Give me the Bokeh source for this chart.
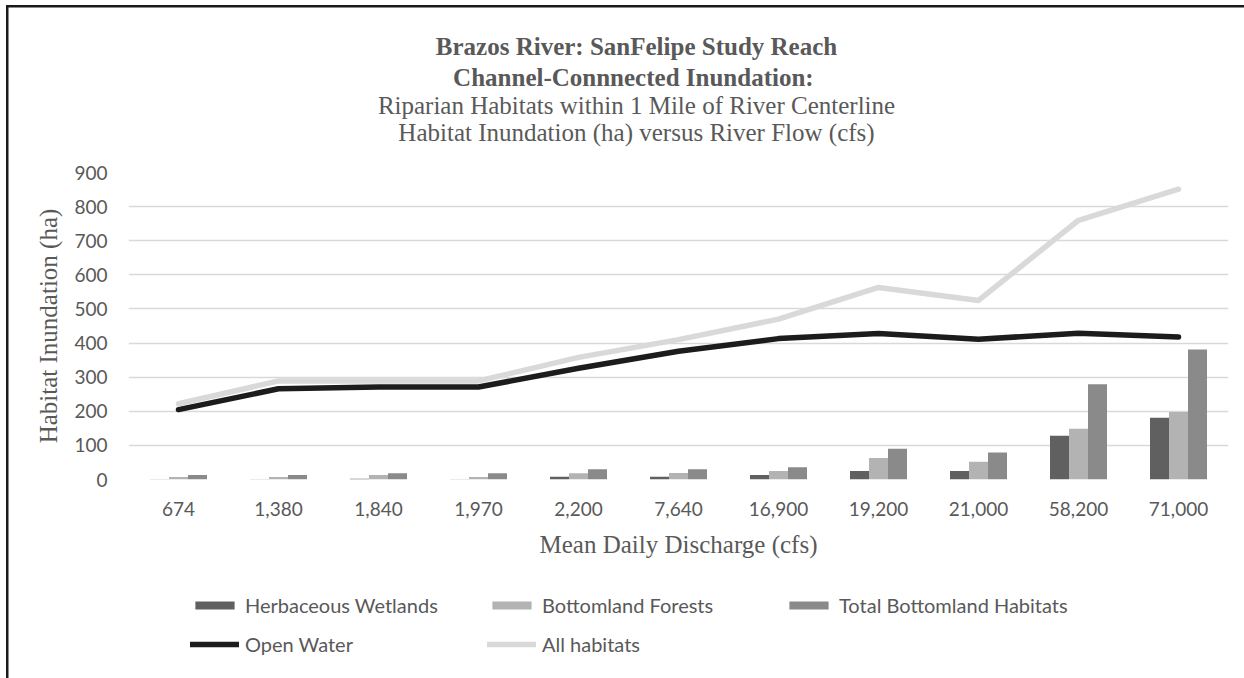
from bokeh.plotting import figure
from bokeh.layouts import column
from bokeh.models import (ColumnDataSource, FactorRange, Range1d, Legend,
                          LegendItem, FixedTicker)
from bokeh.transform import dodge
from bokeh.core.properties import value
from bokeh.embed import file_html
from bokeh.resources import INLINE

# Mean daily discharge classes (cfs)
discharge = ["674", "1,380", "1,840", "1,970", "2,200", "7,640",
             "16,900", "19,200", "21,000", "58,200", "71,000"]

# Inundated area (ha) per habitat type
herbaceous_wetlands = [1, 1, 2, 1, 8, 8, 13, 25, 25, 128, 181]
bottomland_forests = [7, 7, 13, 7, 18, 19, 25, 63, 52, 149, 198]
total_bottomland = [13, 13, 18, 18, 30, 30, 36, 90, 79, 279, 381]
open_water = [205, 266, 271, 271, 326, 376, 413, 428, 411, 429, 418]
all_habitats = [222, 289, 289, 289, 358, 410, 470, 563, 525, 760, 851]

y_ticks = [0, 100, 200, 300, 400, 500, 600, 700, 800, 900]

title_bold = ["Brazos River: SanFelipe Study Reach",
              "Channel-Connnected  Inundation:"]
title_plain = ["Riparian Habitats within 1 Mile of River Centerline",
               "Habitat Inundation (ha) versus River Flow (cfs)"]

series_names = ["Herbaceous Wetlands", "Bottomland Forests",
                "Total Bottomland Habitats", "Open Water", "All habitats"]
bar_colors = ["#606060", "#b3b3b3", "#8a8a8a"]
line_colors = ["#1c1c1c", "#d9d9d9"]

W = 1244
LEFT, RIGHT = 128, 16          # borders around the 1100 px plotting frame
TITLE_H, PLOT_H, LEG_H = 150, 424, 104
GREY_TXT = "#595959"
SERIF = "Liberation Serif"
NAN = float("nan")


def bare_figure(h):
    # text-only strip whose frame lines up with the chart frame; y grows downward
    f = figure(width=W, height=h, x_range=Range1d(LEFT, W - RIGHT),
               y_range=Range1d(h, 0), x_axis_location=None, y_axis_location=None,
               output_backend="svg", toolbar_location=None,
               frame_width=W - LEFT - RIGHT, frame_height=h,
               min_border_left=LEFT, min_border_right=RIGHT,
               min_border_top=0, min_border_bottom=0)
    f.grid.visible = False
    f.outline_line_color = None
    f.background_fill_color = None
    f.border_fill_color = None
    return f


# ---- title block -------------------------------------------------------
head = bare_figure(TITLE_H)
head.text(x=[636, 636], y=[46, 77], text=title_bold, text_align="center",
          text_baseline="middle", text_font=value(SERIF), text_font_style="bold",
          text_font_size="25px", text_color=GREY_TXT)
head.text(x=[636, 636], y=[105, 132], text=title_plain, text_align="center",
          text_baseline="middle", text_font=value(SERIF), text_font_style="normal",
          text_font_size="25px", text_color=GREY_TXT)

# ---- main chart --------------------------------------------------------
src = ColumnDataSource(dict(
    x=discharge, herb=herbaceous_wetlands, forest=bottomland_forests,
    total=total_bottomland, ow=open_water, allh=all_habitats))

p = figure(width=W, height=PLOT_H, x_range=FactorRange(*discharge),
           y_range=Range1d(0, 900), output_backend="svg", toolbar_location=None,
           frame_width=W - LEFT - RIGHT, frame_height=307,
           min_border_left=LEFT, min_border_right=RIGHT,
           min_border_top=22, min_border_bottom=PLOT_H - 22 - 307)
p.outline_line_color = None
p.background_fill_color = "white"
p.border_fill_color = None

p.yaxis.ticker = FixedTicker(ticks=y_ticks)
for ax in (p.xaxis[0], p.yaxis[0]):
    ax.axis_line_color = None
    ax.major_tick_line_color = None
    ax.minor_tick_line_color = None
    ax.major_label_text_font = "Lato"
    ax.major_label_text_font_size = "19px"
    ax.major_label_text_color = GREY_TXT
    ax.axis_label_text_font = SERIF
    ax.axis_label_text_font_size = "25px"
    ax.axis_label_text_font_style = "normal"
    ax.axis_label_text_color = GREY_TXT
p.yaxis.major_label_standoff = 15
p.xaxis.major_label_standoff = 16
p.xaxis.axis_label = "Mean Daily Discharge (cfs)"
p.yaxis.axis_label = "Habitat Inundation (ha)"
p.xaxis.axis_label_standoff = 12
p.yaxis.axis_label_standoff = 9
p.xgrid.grid_line_color = None
p.ygrid.grid_line_color = "#d9d9d9"
p.ygrid.grid_line_width = 1.5

bw = 0.19
p.vbar(x=dodge("x", -bw, range=p.x_range), top="herb", width=bw, source=src,
       fill_color=bar_colors[0], line_color=None)
p.vbar(x=dodge("x", 0, range=p.x_range), top="forest", width=bw, source=src,
       fill_color=bar_colors[1], line_color=None)
p.vbar(x=dodge("x", bw, range=p.x_range), top="total", width=bw, source=src,
       fill_color=bar_colors[2], line_color=None)
p.line(x="x", y="ow", source=src, line_color=line_colors[0], line_width=5.5,
       line_join="round", line_cap="round")
p.line(x="x", y="allh", source=src, line_color=line_colors[1], line_width=5.5,
       line_join="round", line_cap="round")

# ---- legend block ------------------------------------------------------
# key-only renderers (a single NaN row, so nothing lands in the strip itself)
leg = bare_figure(LEG_H)
swatches = [leg.vbar(x=[NAN], top=[NAN], width=1, fill_color=c, line_color=None)
            for c in bar_colors]
swatches += [leg.line(x=[NAN, NAN], y=[NAN, NAN], line_color=c, line_width=5.5,
                      line_cap="round") for c in line_colors]


def legend_row(idx, vy):
    return Legend(items=[LegendItem(label=series_names[i], renderers=[swatches[i]])
                         for i in idx],
                  orientation="horizontal", location=(190 - LEFT, vy),
                  glyph_width=49, glyph_height=10, label_standoff=6,
                  label_width=242, label_height=24, spacing=0, padding=0, margin=0,
                  background_fill_alpha=0, border_line_color=None,
                  label_text_font="Lato", label_text_font_size="20px",
                  label_text_color=GREY_TXT)


leg.add_layout(legend_row([0, 1, 2], 61))
leg.add_layout(legend_row([3, 4], 22))

page = column(head, p, leg, spacing=0)
# dark rule along the top and left edge of the chart box
page.styles = {
    "background-color": "white",
    "background-image": "linear-gradient(#1a1a1a, #1a1a1a), linear-gradient(#1a1a1a, #1a1a1a)",
    "background-position": "6px 5px, 6px 5px",
    "background-size": "2.5px 100%, 100% 2.5px",
    "background-repeat": "no-repeat",
}

open("out.html", "w").write(file_html(page, INLINE))
